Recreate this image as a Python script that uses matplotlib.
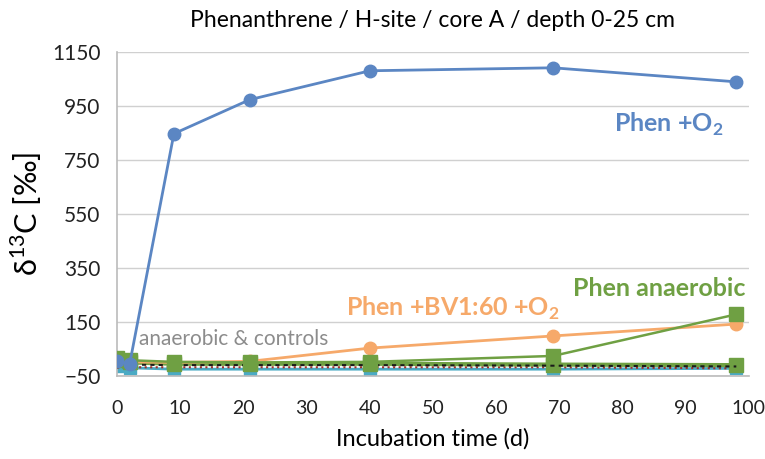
import numpy as np
import matplotlib.pyplot as plt

plt.rcParams['font.family'] = ['Lato', 'DejaVu Sans']

# incubation days
days = [0, 2, 9, 21, 40, 69, 98]

# d13C values [permil]
phen_o2 = [5, -5, 847, 973, 1080, 1091, 1039]
phen_bv = [8, 2, 0, 4, 53, 98, 142]
phen_anaerobic = [15, 8, 2, 0, 2, 24, 178]
ctrl_green = [10, 0, -5, -5, -5, -8, -10]
ctrl_teal = [-15, -20, -25, -25, -25, -25, -22]
ctrl_dotted = [-5, -8, -10, -10, -10, -12, -15]
ctrl_red = [-20, -18, -18, -18, -18, -18, -22]

x_ticks = list(range(0, 101, 10))
y_ticks = [-50, 150, 350, 550, 750, 950, 1150]

blue = '#5B86C3'
orange = '#F6A96A'
green = '#6FA043'
teal = '#4AAAC4'

fig = plt.figure(figsize=(7.65, 4.59), dpi=100)
ax = fig.add_axes([0.153, 0.181, 0.826, 0.706])

ax.plot(days, ctrl_teal, color=teal, marker='s', ms=9, lw=2, zorder=2)
ax.plot(days, ctrl_red, color='#A0302A', ls=':', lw=1.5, zorder=3)
ax.plot(days, ctrl_green, color=green, marker='s', ms=10, lw=3, zorder=3)
ax.plot(days, ctrl_dotted, color='#1A1A1A', ls=(0, (2, 2)), lw=1.5, zorder=4)
ax.plot(days, phen_bv, color=orange, marker='o', ms=9, lw=2, zorder=5)
ax.plot(days, phen_anaerobic, color=green, marker='s', ms=10, lw=1.8, zorder=6)
ax.plot(days, phen_o2, color=blue, marker='o', ms=9, lw=2, zorder=7)

ax.set_xlim(0, 100)
ax.set_ylim(-50, 1150)
ax.set_xticks(x_ticks)
ax.set_yticks(y_ticks)
ax.tick_params(length=0, labelsize=15, colors='#222222')
ax.tick_params(axis='x', pad=17, labelsize=14)
ax.tick_params(axis='y', pad=12)
ax.yaxis.grid(True, color='#D0D0D0', lw=1)
ax.set_axisbelow(True)
for s in ['top', 'right']:
    ax.spines[s].set_visible(False)
for s in ['left', 'bottom']:
    ax.spines[s].set_color('#BBBBBB')
    ax.spines[s].set_linewidth(1.2)

ax.set_xlabel('Incubation time (d)', fontsize=17, labelpad=8)
ax.set_ylabel('δ$^{\\mathregular{13}}$C [‰]', fontsize=22, labelpad=6)
ax.set_title('Phenanthrene / H-site / core A / depth 0-25 cm',
             fontsize=16.5, pad=18)

ax.text(96, 880, r'Phen +O$_\mathregular{2}$', color=blue, fontsize=18,
        fontweight='bold', ha='right', va='center')
ax.text(99.5, 272, 'Phen anaerobic', color=green, fontsize=18,
        fontweight='bold', ha='right', va='center')
ax.text(70, 200, r'Phen +BV1:60 +O$_\mathregular{2}$', color=orange, fontsize=18,
        fontweight='bold', ha='right', va='center')
ax.text(3.5, 85, 'anaerobic & controls', color='#8C8C8C', fontsize=15,
        ha='left', va='center')

fig.savefig('out.png', dpi=100)
